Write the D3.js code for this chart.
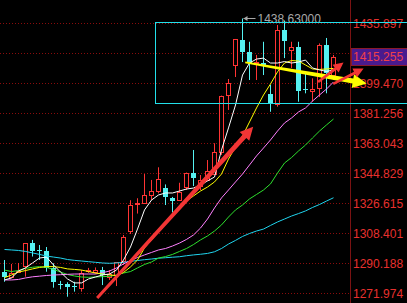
<!DOCTYPE html>
<html>
<head>
<meta charset="utf-8">
<script src="https://cdn.jsdelivr.net/npm/d3@7"></script>
<style>
  html, body { margin: 0; padding: 0; background: #000; overflow: hidden; }
  svg { display: block; }
</style>
</head>
<body>
<div id="chart"></div>
<script>
// candles, one per bar
const open = [1284.9,1282.0,1285.0,1288.4,1302.3,1297.8,1297.5,1287.0,1277.4,1277.4,1276.0,1275.0,1285.3,1284.4,1285.9,1281.9,1282.9,1291.0,1309.6,1325.8,1326.4,1331.3,1334.2,1335.5,1329.8,1328.9,1336.6,1344.8,1336.9,1340.6,1344.2,1357.8,1392.2,1410.4,1425.6,1418.5,1411.6,1411.8,1392.6,1386.5,1431.6,1419.2,1421.1,1395.6,1394.3,1396.3,1422.5,1404.3];
const high = [1292.0,1289.6,1290.2,1302.3,1304.2,1301.1,1299.9,1290.0,1279.3,1278.5,1278.8,1285.9,1287.2,1287.5,1287.8,1285.9,1290.8,1307.2,1328.3,1329.5,1344.2,1340.6,1348.3,1337.9,1330.3,1338.9,1345.1,1358.8,1343.6,1352.7,1362.9,1391.8,1401.9,1426.2,1438.63,1424.5,1416.5,1424.5,1398.3,1434.7,1437.4,1424.5,1424.5,1406.3,1402.3,1423.5,1426.8,1416.5];
const low = [1278.8,1281.7,1284.9,1281.9,1294.1,1292.0,1284.9,1275.2,1274.2,1269.7,1272.8,1272.8,1284.1,1283.7,1276.8,1279.9,1276.2,1289.0,1307.8,1320.2,1326.3,1328.4,1332.5,1325.4,1320.9,1328.4,1334.5,1336.9,1334.5,1340.3,1343.6,1355.8,1383.1,1403.1,1412.2,1401.3,1401.3,1404.3,1382.0,1385.1,1414.6,1408.6,1388.1,1393.2,1388.1,1391.0,1393.2,1401.3];
const close = [1281.9,1284.4,1285.6,1302.2,1297.7,1297.2,1286.9,1278.2,1277.0,1275.4,1275.6,1284.3,1285.8,1285.9,1282.6,1283.5,1290.6,1305.8,1325.4,1326.4,1331.5,1333.9,1341.2,1330.1,1328.0,1333.5,1345.0,1341.8,1340.6,1346.2,1357.8,1391.6,1399.3,1426.0,1418.5,1411.9,1412.5,1409.8,1386.5,1431.6,1425.0,1421.1,1394.3,1395.2,1395.6,1422.5,1405.2,1415.255];

// moving averages
const ma5 = [1279.9,1281.1,1285.3,1287.2,1290.2,1293.2,1293.8,1289.0,1284.7,1280.5,1278.1,1278.1,1280.5,1281.7,1282.9,1283.5,1285.9,1292.0,1299.9,1310.8,1322.4,1328.4,1331.5,1332.7,1332.7,1333.9,1335.1,1335.7,1337.5,1340.0,1342.4,1358.8,1372.2,1386.1,1404.3,1411.6,1414.0,1414.6,1411.6,1411.6,1412.5,1411.6,1412.2,1413.4,1408.6,1407.4,1406.5,1407.4];
const ma10 = [1281.3,1282.9,1284.7,1285.6,1286.6,1287.5,1288.0,1288.0,1287.5,1286.6,1286.3,1285.9,1285.0,1284.1,1283.5,1282.9,1282.6,1284.4,1287.8,1292.0,1299.3,1304.2,1309.0,1313.9,1318.7,1323.6,1327.8,1330.9,1333.9,1336.3,1339.4,1344.2,1353.3,1360.6,1367.3,1375.8,1384.3,1392.2,1398.9,1406.2,1411.6,1413.1,1412.8,1410.4,1408.0,1407.7,1408.0,1408.3];
const ma20 = [1279.9,1279.9,1280.2,1281.1,1281.8,1282.2,1282.6,1282.9,1283.1,1283.3,1283.5,1283.5,1283.5,1283.5,1284.3,1285.3,1287.2,1289.6,1291.7,1293.5,1295.1,1296.6,1298.1,1299.0,1300.5,1302.3,1304.5,1307.2,1311.4,1316.9,1323.6,1329.7,1334.5,1339.4,1344.2,1349.7,1355.2,1360.0,1364.9,1370.3,1375.2,1378.2,1381.9,1384.3,1388.5,1392.2,1395.8,1400.1];
const ma30 = [1285.9,1285.0,1285.6,1286.9,1287.6,1288.0,1287.5,1286.3,1284.7,1283.2,1282.3,1281.7,1281.5,1281.7,1281.9,1282.1,1282.9,1284.1,1285.0,1287.2,1289.3,1290.8,1293.2,1294.1,1295.4,1297.2,1299.0,1301.4,1304.2,1306.6,1309.6,1313.3,1318.1,1322.4,1325.4,1329.1,1331.8,1334.5,1338.2,1344.8,1350.9,1354.2,1358.2,1361.8,1366.1,1370.3,1374.0,1377.6];
const ma60 = [1298.4,1298.1,1297.8,1297.2,1296.3,1295.4,1294.4,1293.8,1293.2,1292.3,1291.8,1291.4,1291.0,1290.6,1290.2,1290.0,1290.2,1290.6,1291.2,1291.7,1292.2,1292.6,1293.1,1293.4,1293.7,1294.0,1294.6,1295.1,1295.5,1296.0,1297.0,1299.0,1301.7,1303.9,1306.3,1308.1,1309.6,1310.8,1313.0,1315.1,1316.9,1318.7,1320.2,1321.8,1323.9,1325.7,1327.8,1329.8];

// right axis labels
const tickValues = [1435.897,1399.470,1381.256,1363.043,1344.829,1326.615,1308.401,1290.188,1271.974];
const gridValues = [1435.897,1417.684,1399.470,1381.256,1363.043,1344.829,1326.615,1308.401,1290.188,1271.974];
const lastPrice = 1415.255;
const highLabel = "1438.63000";

// drawn annotations, in bar index / price units
const arrows = [
  { from: [13.24, 1268.9], to: [35.53, 1372.9], color: "#f23535", tail: 3, neck: 5, head: 13, len: 13 },
  { from: [34.39, 1412.0], to: [51.74, 1399.2], color: "#ffff00", tail: 2, neck: 5, head: 14, len: 14 },
  { from: [44.8, 1400.1], to: [48.43, 1411.9], color: "#f23535", tail: 2.5, neck: 3, head: 10, len: 10 },
  { from: [46.96, 1398.9], to: [51.3, 1408.3], color: "#f23535", tail: 2.5, neck: 3, head: 10, len: 10 }
];
const boxRange = { i0: 21.43, i1: 57.4, p0: 1436.8, p1: 1387.9 };

const width = 407, height = 303;
const n = open.length;

const svg = d3.select("#chart").append("svg")
  .attr("width", width).attr("height", height)
  .attr("viewBox", [0, 0, width, height]);

svg.append("rect").attr("width", width).attr("height", height).attr("fill", "#000");

const x = d3.scaleBand().domain(d3.range(n)).range([1, 1 + 7 * n]);
const y = d3.scaleLinear().domain([1271.974, 1435.897]).range([293, 23]);
const cx = i => x(i) + x.bandwidth() / 2;   // bar centre
const xi = v => cx(0) + v * x.step();       // fractional index

// grid
svg.append("g").selectAll("line").data(gridValues).join("line")
  .attr("x1", 0).attr("x2", 350)
  .attr("y1", d => Math.round(y(d)) + 0.5).attr("y2", d => Math.round(y(d)) + 0.5)
  .attr("stroke", "#8a0c0c").attr("stroke-dasharray", "1,2");

// axis line
svg.append("line").attr("x1", 350.5).attr("x2", 350.5).attr("y1", 0).attr("y2", height)
  .attr("stroke", "#7a1212");

// candles
const bars = d3.range(n).map(i => ({ i, o: open[i], h: high[i], l: low[i], c: close[i] }));
const cg = svg.append("g");
cg.selectAll("line").data(bars).join("line")
  .attr("x1", d => cx(d.i)).attr("x2", d => cx(d.i))
  .attr("y1", d => y(d.h)).attr("y2", d => y(d.l))
  .attr("stroke", d => d.c >= d.o ? "#ff3434" : "#55f2f2");
cg.selectAll("rect").data(bars).join("rect")
  .attr("x", d => d.c >= d.o ? x(d.i) + 1.5 : x(d.i) + 1)
  .attr("width", d => d.c >= d.o ? 4 : 5)
  .attr("y", d => Math.round(y(Math.max(d.o, d.c))) + (d.c >= d.o ? 0.5 : 0))
  .attr("height", d => Math.max(1, Math.round(Math.abs(y(d.o) - y(d.c)))))
  .attr("fill", d => d.c >= d.o ? "#000" : "#55f2f2")
  .attr("stroke", d => d.c >= d.o ? "#ff3434" : "none");

// moving averages
const line = d3.line().x((d, i) => cx(i)).y(d => y(d));
const maSeries = [
  { v: ma60, color: "#20d4ee" },
  { v: ma30, color: "#2ee02e" },
  { v: ma20, color: "#ff80ff" },
  { v: ma10, color: "#ffff00" },
  { v: ma5, color: "#ffffff" }
];
svg.append("g").selectAll("path").data(maSeries).join("path")
  .attr("d", d => line(d.v))
  .attr("fill", "none").attr("stroke", d => d.color).attr("stroke-width", 1);

// highest price marker
const hiIdx = high.indexOf(d3.max(high));
const hx = cx(hiIdx), hy = y(high[hiIdx]);
svg.append("line").attr("x1", hx + 1).attr("x2", hx + 13).attr("y1", hy).attr("y2", hy)
  .attr("stroke", "#a8a8a8");
svg.append("path").attr("d", `M${hx + 1},${hy} l4,-2.5 l0,5 z`).attr("fill", "#a8a8a8");
svg.append("text").attr("x", hx + 15).attr("y", hy).attr("dy", "0.36em")
  .attr("font-family", "'Liberation Sans', Arial, sans-serif").attr("font-size", 12)
  .attr("fill", "#a8a8a8").text(highLabel);

// axis labels
svg.append("g").selectAll("text").data(tickValues).join("text")
  .attr("x", 353).attr("y", d => y(d) + 1).attr("dy", "0.36em")
  .attr("font-family", "'Liberation Sans', Arial, sans-serif").attr("font-size", 12)
  .attr("fill", "#e8302e").text(d => d.toFixed(3));

// last price tag
const ly = y(lastPrice);
svg.append("rect").attr("x", 351.5).attr("y", Math.round(ly) - 8.5).attr("width", 60).attr("height", 17)
  .attr("fill", "#4a1a8e").attr("stroke", "#8a1a2a");
svg.append("text").attr("x", 353).attr("y", ly).attr("dy", "0.36em")
  .attr("font-family", "'Liberation Sans', Arial, sans-serif").attr("font-size", 12)
  .attr("fill", "#f0404a").text(lastPrice.toFixed(3));

// selection box
svg.append("rect")
  .attr("x", Math.round(xi(boxRange.i0)) + 0.5).attr("y", Math.round(y(boxRange.p0)) + 0.5)
  .attr("width", Math.round(xi(boxRange.i1) - xi(boxRange.i0)))
  .attr("height", Math.round(y(boxRange.p1) - y(boxRange.p0)))
  .attr("fill", "none").attr("stroke", "#22e0ea").attr("stroke-width", 1);

// hand-drawn arrows
function arrowPath(a) {
  const x0 = xi(a.from[0]), y0 = y(a.from[1]);
  const x1 = xi(a.to[0]), y1 = y(a.to[1]);
  const L = Math.hypot(x1 - x0, y1 - y0);
  const ux = (x1 - x0) / L, uy = (y1 - y0) / L;
  const nx = -uy, ny = ux;
  const bx = x1 - ux * a.len, by = y1 - uy * a.len;
  const p = [
    [x0 + nx * a.tail / 2, y0 + ny * a.tail / 2],
    [bx + nx * a.neck / 2, by + ny * a.neck / 2],
    [bx + nx * a.head / 2, by + ny * a.head / 2],
    [x1, y1],
    [bx - nx * a.head / 2, by - ny * a.head / 2],
    [bx - nx * a.neck / 2, by - ny * a.neck / 2],
    [x0 - nx * a.tail / 2, y0 - ny * a.tail / 2]
  ];
  return "M" + p.map(q => q.join(",")).join("L") + "Z";
}
svg.append("g").selectAll("path").data(arrows).join("path")
  .attr("d", arrowPath).attr("fill", d => d.color);
</script>
</body>
</html>
